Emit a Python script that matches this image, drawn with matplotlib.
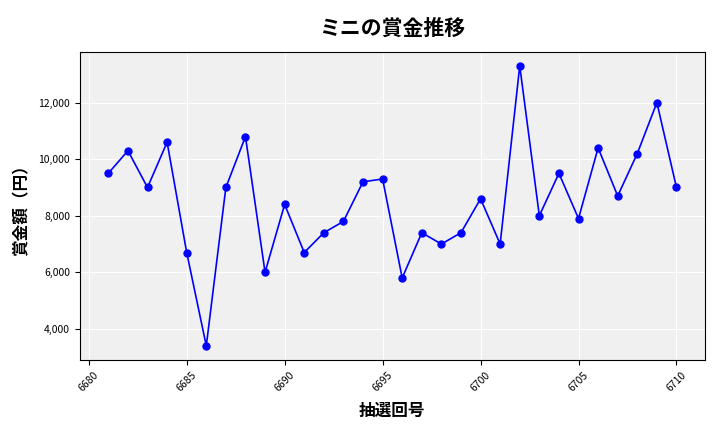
import matplotlib.pyplot as plt
from matplotlib.ticker import FuncFormatter

plt.rcParams['font.family'] = ['Noto Sans CJK JP', 'DejaVu Sans']

draws = list(range(6681, 6711))
prizes = [9500, 10300, 9000, 10600, 6700, 3400, 9000, 10800, 6000, 8400,
          6700, 7400, 7800, 9200, 9300, 5800, 7400, 7000, 7400, 8600,
          7000, 13300, 8000, 9500, 7900, 10400, 8700, 10200, 12000, 9000]

fig, ax = plt.subplots(figsize=(7.2, 4.32), dpi=100)
ax.set_facecolor('#f0f0f0')
ax.plot(draws, prizes, color='blue', marker='o', markersize=5, linewidth=1.2)
ax.grid(True, color='white', linewidth=0.8)
ax.set_axisbelow(True)

ax.set_title('ミニの賞金推移', fontsize=15, fontweight='bold', pad=12)
ax.set_xlabel('抽選回号', fontsize=12, fontweight='bold', labelpad=6)
ax.set_ylabel('賞金額（円）', fontsize=12, fontweight='bold', labelpad=6)
ax.yaxis.set_major_formatter(FuncFormatter(lambda v, p: f'{int(v):,}'))
ax.tick_params(axis='both', labelsize=7.5)
plt.setp(ax.get_xticklabels(), rotation=45)

fig.subplots_adjust(left=0.111, right=0.979, top=0.88, bottom=0.167)
fig.savefig('out.png', dpi=100)
